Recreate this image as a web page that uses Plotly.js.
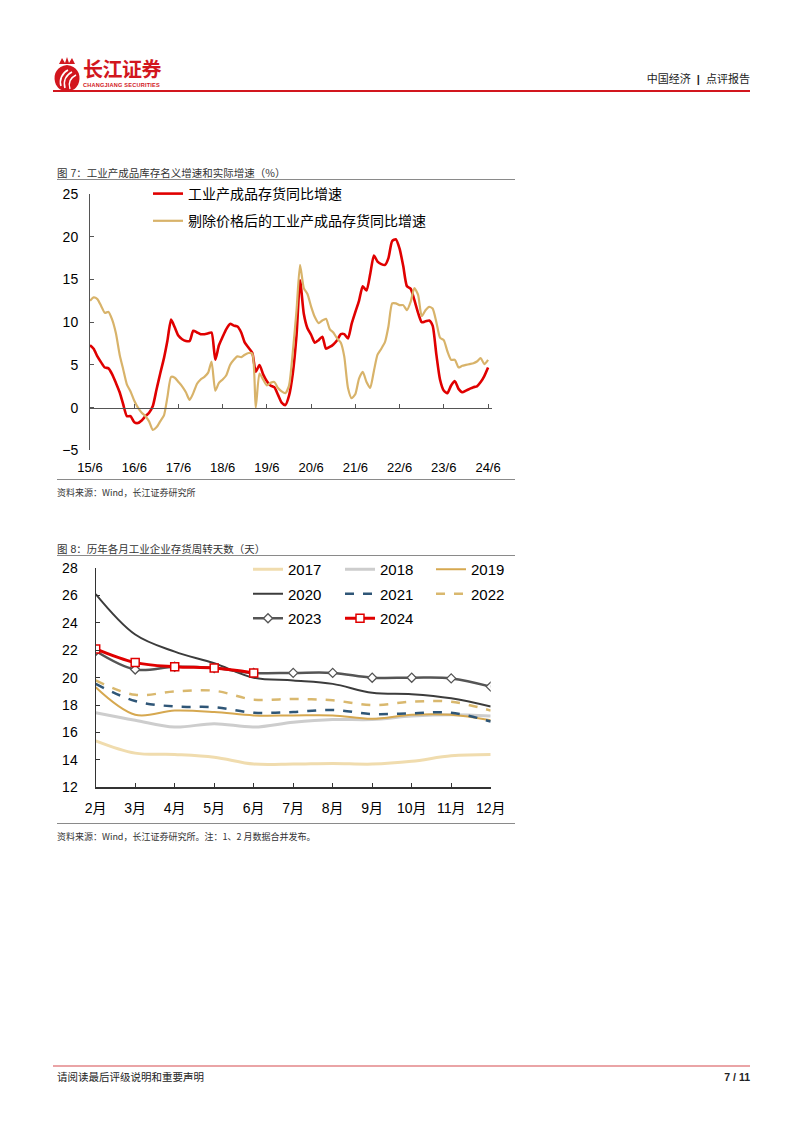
<!DOCTYPE html>
<html><head><meta charset="utf-8">
<script src="https://cdn.plot.ly/plotly-3.0.1.min.js"></script>
<style>
html,body{margin:0;padding:0;background:#fff;}
body{width:802px;height:1133px;position:relative;overflow:hidden;font-family:"Liberation Sans","Noto Sans CJK SC",sans-serif;}
.abs{position:absolute;white-space:pre;}
.cn{font-family:"Noto Sans CJK SC","Liberation Sans",sans-serif;}
.rule{position:absolute;height:1px;background:#8a8a8a;}
</style></head><body>

<svg class="abs" style="left:52px;top:56px" width="30" height="36" viewBox="0 0 30 36">
  <path d="M15 9 C25 10 29 18 27 26 C25 33 20 35 15 35 C10 35 5 33 3 26 C1 18 5 10 15 9 Z" fill="#d2161e"/>
  <path d="M9 30 C7 24 10 17 16 14" stroke="#fff" stroke-width="1.6" fill="none"/>
  <path d="M13 32 C11 25 14 19 20 16" stroke="#fff" stroke-width="1.6" fill="none"/>
  <path d="M18 33 C16 27 18 22 24 19" stroke="#fff" stroke-width="1.4" fill="none"/>
  <path d="M7 8 L10 2 L13 7 L15 1 L17 7 L20 2 L23 8 Z" fill="#d2161e"/>
</svg>
<div class="abs cn" style="left:83px;top:59px;font-size:20px;font-weight:bold;color:#d2161e;letter-spacing:-0.5px;line-height:20px;height:20px;">长江证券</div>
<div class="abs" style="left:83px;top:82px;font-size:5.6px;font-weight:bold;color:#d2161e;line-height:6px;letter-spacing:0.2px;">CHANGJIANG SECURITIES</div>
<div class="abs cn" style="right:52px;top:71px;font-size:11px;color:#222;line-height:14px;"><span class="cn">中国经济</span><span style="font-family:'Liberation Sans'">  <b>|</b>  </span><span class="cn">点评报告</span></div>
<div class="abs" style="left:53px;top:90px;width:697px;height:2px;background:#d2161e;"></div>

<div class="abs cn" style="left:57px;top:166px;font-size:10.5px;color:#333;line-height:14px;">图<span style="font-family:'Liberation Sans'"> 7</span>：工业产成品库存名义增速和实际增速（%）</div>
<div class="rule" style="left:57px;top:179px;width:458px;"></div>
<div class="rule" style="left:57px;top:479px;width:458px;"></div>
<div class="abs cn" style="left:57px;top:486px;font-size:9px;color:#333;line-height:13px;">资料来源：Wind，长江证券研究所</div>

<div class="abs cn" style="left:57px;top:542px;font-size:10.5px;color:#333;line-height:14px;">图<span style="font-family:'Liberation Sans'"> 8</span>：历年各月工业企业存货周转天数（天）</div>
<div class="rule" style="left:57px;top:555px;width:458px;"></div>
<div class="rule" style="left:57px;top:823px;width:458px;"></div>
<div class="abs cn" style="left:57px;top:830px;font-size:9px;color:#333;line-height:13px;">资料来源：Wind，长江证券研究所。注：1、2 月数据合并发布。</div>

<div class="abs" style="left:53px;top:1065px;width:697px;height:2px;background:#eaa4a6;"></div>
<div class="abs cn" style="left:57px;top:1070px;font-size:10.5px;color:#222;line-height:14px;">请阅读最后评级说明和重要声明</div>
<div class="abs" style="right:52px;top:1070px;font-size:10.5px;font-weight:bold;color:#222;line-height:14px;">7 / 11</div>

<div id="chart" style="position:absolute;left:0;top:0;width:802px;height:1133px;"></div>

<script>
// ---------- Chart 1 data (monthly, 2015/6 - 2024/6) ----------
const startYear = 2015, startMonth = 6, monthCount = 109;
const months = [];
for (let i = 0; i < monthCount; i++) {
  const t = startMonth - 1 + i;
  const yy = startYear + Math.floor(t / 12);
  const mm = (t % 12) + 1;
  months.push(yy + '-' + (mm < 10 ? '0' + mm : mm) + '-01');
}
const nominalGrowth = [
  7.3,6.9,6.0,5.3,4.7,4.6,3.9,2.9,1.8,0.4,
  -1.0,-1.0,-1.7,-1.8,-1.5,-1.0,-0.6,0.2,2.1,4.0,
  5.8,7.8,10.3,9.4,8.4,8.0,7.8,7.8,9.0,8.8,
  8.6,8.6,8.7,8.8,5.6,7.3,8.3,9.2,9.8,9.6,
  9.5,8.8,7.6,7.0,6.4,4.2,5.0,3.9,3.1,2.6,
  2.4,1.5,0.6,0.3,1.4,4.0,8.5,14.9,11.0,9.3,
  8.5,7.6,7.9,8.3,6.9,7.1,7.4,7.9,8.6,8.6,
  8.1,9.8,11.2,12.5,14.2,13.7,15.6,17.8,17.1,16.8,
  16.7,17.5,19.5,19.7,18.6,16.6,14.2,13.9,12.6,11.1,
  10.0,10.1,10.2,9.6,6.2,3.3,2.0,1.7,2.6,3.1,
  2.2,1.8,2.0,2.2,2.4,2.5,3.0,3.7,4.7
];
const realGrowth = [
  12.5,12.9,12.7,11.9,11.1,11.2,10.3,8.7,6.2,4.5,
  2.7,1.9,0.8,0.0,-0.6,-1.0,-1.6,-2.6,-2.3,-1.6,
  -0.9,1.2,3.6,3.5,3.0,2.5,1.8,0.9,1.7,2.8,
  3.3,3.6,4.1,5.4,2.0,2.9,3.3,3.8,5.0,5.6,
  6.0,5.9,6.2,6.4,6.3,0.0,4.0,3.3,2.6,2.9,
  3.0,2.3,1.9,1.7,2.6,6.5,11.4,16.7,14.0,13.3,
  11.8,10.6,9.9,10.2,10.4,9.2,8.8,8.1,7.6,6.0,
  2.3,1.1,1.6,3.4,4.2,3.0,2.3,4.3,6.2,6.9,
  7.7,9.5,12.2,12.2,12.0,12.0,11.4,12.4,14.0,13.2,
  10.7,11.4,11.8,11.6,10.0,8.2,7.9,6.6,5.6,5.6,
  4.7,4.9,5.0,5.1,5.2,5.4,5.8,5.1,5.6
];
const chart1TickVals = ['2015-06-01','2016-06-01','2017-06-01','2018-06-01','2019-06-01','2020-06-01','2021-06-01','2022-06-01','2023-06-01','2024-06-01'];
const chart1TickText = ['15/6','16/6','17/6','18/6','19/6','20/6','21/6','22/6','23/6','24/6'];
const chart1Names = ['工业产成品存货同比增速','剔除价格后的工业产成品存货同比增速'];

// ---------- Chart 2 data ----------
const monthLabels = ['2月','3月','4月','5月','6月','7月','8月','9月','10月','11月','12月'];
const d2017 = [15.4,14.5,14.4,14.2,13.7,13.7,13.75,13.7,13.9,14.3,14.4];
const d2018 = [17.45,16.9,16.4,16.65,16.4,16.75,16.95,16.95,17.2,17.3,17.2];
const d2019 = [19.3,17.3,17.6,17.5,17.25,17.25,17.25,17.0,17.3,17.3,16.9];
const d2020 = [26.1,23.15,21.9,21.05,20.0,19.8,19.55,18.9,18.8,18.5,17.9];
const d2021 = [19.55,18.3,17.9,17.85,17.45,17.5,17.65,17.35,17.4,17.45,16.8];
const d2022 = [19.8,18.75,19.0,19.05,18.4,18.45,18.35,18.0,18.25,18.25,17.6];
const d2023 = [21.95,20.6,20.8,20.7,20.35,20.35,20.35,20.0,20.0,19.95,19.35];
const d2024 = [22.1,21.1,20.8,20.7,20.35];

// ---------- layout helpers ----------
const W = 802, H = 1133;
const px = p => p / W;
const py = p => 1 - p / H;
const FONT = 'Liberation Sans, Noto Sans CJK SC, sans-serif';
const RED = '#e00000', GOLD = '#d8b36a';

const c1 = {left: 90, right: 491.7, top: 194, bottom: 450.4};
const c2 = {left: 95.7, right: 490.7, top: 568, bottom: 787.4};
const zeroY = c1.bottom - (0 - (-5)) / 30 * (c1.bottom - c1.top);

const traces = [
  {x: months, y: nominalGrowth, name: chart1Names[0], type: 'scatter', mode: 'lines',
   line: {color: RED, width: 2.6, shape: 'spline', smoothing: 0.6},
   xaxis: 'x', yaxis: 'y', legend: 'legend', legendgroup: 'a', hoverinfo: 'skip'},
  {x: months, y: realGrowth, name: chart1Names[1], type: 'scatter', mode: 'lines',
   line: {color: GOLD, width: 2.2, shape: 'spline', smoothing: 0.6},
   xaxis: 'x', yaxis: 'y', legend: 'legend', legendgroup: 'b', hoverinfo: 'skip'},
  {x: [months[0]], y: [null], type: 'scatter', mode: 'lines', showlegend: false,
   xaxis: 'x3', yaxis: 'y', hoverinfo: 'skip'},

  {x: monthLabels, y: d2017, name: '2017', mode: 'lines', line: {color: '#f0dcae', width: 3, shape: 'spline'},
   xaxis: 'x2', yaxis: 'y2', legend: 'legend2', legendgroup: 'g17'},
  {x: monthLabels, y: d2018, name: '2018', mode: 'lines', line: {color: '#cdcdcd', width: 3, shape: 'spline'},
   xaxis: 'x2', yaxis: 'y2', legend: 'legend3', legendgroup: 'g18'},
  {x: monthLabels, y: d2019, name: '2019', mode: 'lines', line: {color: '#d6a850', width: 2, shape: 'spline'},
   xaxis: 'x2', yaxis: 'y2', legend: 'legend4', legendgroup: 'g19'},
  {x: monthLabels, y: d2020, name: '2020', mode: 'lines', line: {color: '#3c3c3c', width: 2, shape: 'spline'},
   xaxis: 'x2', yaxis: 'y2', legend: 'legend2', legendgroup: 'g20'},
  {x: monthLabels, y: d2021, name: '2021', mode: 'lines', line: {color: '#2f5677', width: 2.5, dash: 'dash', shape: 'spline'},
   xaxis: 'x2', yaxis: 'y2', legend: 'legend3', legendgroup: 'g21'},
  {x: monthLabels, y: d2022, name: '2022', mode: 'lines', line: {color: '#d9b86e', width: 2.5, dash: 'dash', shape: 'spline'},
   xaxis: 'x2', yaxis: 'y2', legend: 'legend4', legendgroup: 'g22'},
  {x: monthLabels, y: d2023, name: '2023', mode: 'lines+markers', line: {color: '#555555', width: 2.5, shape: 'spline'},
   marker: {symbol: 'diamond', size: 7, color: '#ffffff', line: {color: '#555555', width: 1.3}},
   xaxis: 'x2', yaxis: 'y2', legend: 'legend2', legendgroup: 'g23'},
  {x: monthLabels.slice(0, d2024.length), y: d2024, name: '2024', mode: 'lines+markers', line: {color: RED, width: 3, shape: 'spline'},
   marker: {symbol: 'square', size: 8, color: '#ffffff', line: {color: RED, width: 1.5}},
   xaxis: 'x2', yaxis: 'y2', legend: 'legend3', legendgroup: 'g24'}
];
traces.forEach(t => { if (t.xaxis === 'x2') t.hoverinfo = 'skip'; });

const legBase = {bgcolor: 'rgba(0,0,0,0)', borderwidth: 0, xanchor: 'left', yanchor: 'top',
  orientation: 'v', traceorder: 'grouped', itemclick: false, itemdoubleclick: false};

const layout = {
  width: W, height: H,
  margin: {l: 0, r: 0, t: 0, b: 0},
  paper_bgcolor: 'rgba(0,0,0,0)', plot_bgcolor: 'rgba(0,0,0,0)',
  font: {family: FONT, color: '#000'},
  showlegend: true,
  xaxis: {domain: [px(c1.left), px(c1.right)], anchor: 'y', type: 'date',
    range: ['2015-06-01', '2024-07-01'], tickvals: chart1TickVals, ticktext: chart1TickText,
    ticks: '', showline: false, showgrid: false, zeroline: false,
    tickfont: {size: 13, color: '#000'}, ticklabelstandoff: 8, fixedrange: true},
  xaxis3: {overlaying: 'x', anchor: 'free', position: py(zeroY), type: 'date',
    range: ['2015-06-01', '2024-07-01'], tickvals: chart1TickVals,
    ticks: 'inside', ticklen: 4, tickcolor: '#555', tickwidth: 1,
    showticklabels: false, showline: true, linecolor: '#555', linewidth: 1,
    showgrid: false, zeroline: false, fixedrange: true},
  yaxis: {domain: [py(c1.bottom), py(c1.top)], anchor: 'x', range: [-5, 25], dtick: 5, tick0: 0,
    ticks: 'inside', ticklen: 4, tickcolor: '#555', showline: true, linecolor: '#555', linewidth: 1,
    showgrid: false, zeroline: false, tickfont: {size: 14, color: '#000'}, ticklabelstandoff: 8, fixedrange: true},
  xaxis2: {domain: [px(c2.left), px(c2.right)], anchor: 'y2', type: 'category', range: [0, 10],
    ticks: 'inside', ticklen: 4, tickcolor: '#333', showline: true, linecolor: '#333', linewidth: 1.2,
    showgrid: false, zeroline: false, tickfont: {size: 14, color: '#000'}, ticklabelstandoff: 8, fixedrange: true},
  yaxis2: {domain: [py(c2.bottom), py(c2.top)], anchor: 'x2', range: [12, 28], dtick: 2, tick0: 12,
    ticks: 'inside', ticklen: 4, tickcolor: '#333', showline: true, linecolor: '#333', linewidth: 1.2,
    showgrid: false, zeroline: false, tickfont: {size: 14, color: '#000'}, ticklabelstandoff: 14, fixedrange: true},
  legend: Object.assign({}, legBase, {x: px(148), y: py(178), font: {size: 14, color: '#000'}, tracegroupgap: 6}),
  legend2: Object.assign({}, legBase, {x: px(248), y: py(553), font: {size: 15, color: '#000'}, tracegroupgap: 2}),
  legend3: Object.assign({}, legBase, {x: px(340), y: py(553), font: {size: 15, color: '#000'}, tracegroupgap: 2}),
  legend4: Object.assign({}, legBase, {x: px(431), y: py(553), font: {size: 15, color: '#000'}, tracegroupgap: 2})
};

Plotly.newPlot('chart', traces, layout, {staticPlot: true, displayModeBar: false});
</script>
</body></html>
